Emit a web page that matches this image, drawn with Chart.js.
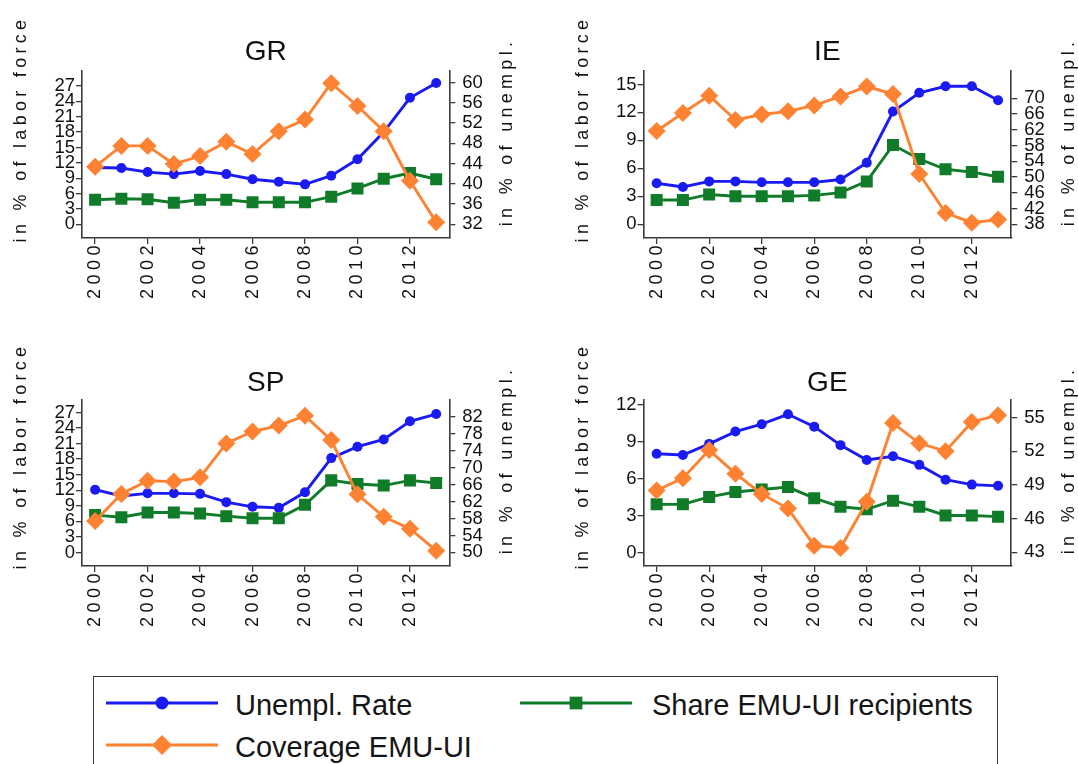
<!DOCTYPE html>
<html>
<head>
<meta charset="utf-8">
<script src="https://cdn.jsdelivr.net/npm/chart.js@4.4.1/dist/chart.umd.min.js"></script>
<style>
  html, body { margin: 0; padding: 0; background: #fff; }
  body { width: 1078px; height: 764px; position: relative; overflow: hidden; font-family: "Liberation Sans", Arial, sans-serif; }
  canvas.panel { position: absolute; }
  #legendBox { position: absolute; left: 93px; top: 676px; width: 905px; height: 110px; border: 1.5px solid #3a3a3a; box-sizing: border-box; }
  .legIcon { position: absolute; }
  .legText { position: absolute; font-size: 29px; line-height: 36px; color: #151515; white-space: nowrap; }
</style>
</head>
<body>
<canvas class="panel" id="cGR"></canvas>
<canvas class="panel" id="cIE"></canvas>
<canvas class="panel" id="cSP"></canvas>
<canvas class="panel" id="cGE"></canvas>
<div id="legendBox"></div>
<div id="legend"></div>

<script>
// années
var years = [2000, 2001, 2002, 2003, 2004, 2005, 2006, 2007, 2008, 2009, 2010, 2011, 2012, 2013];
var xTicks = [2000, 2002, 2004, 2006, 2008, 2010, 2012];

// Grèce
var grUnemp = [11.1, 11.0, 10.2, 9.8, 10.4, 9.8, 8.8, 8.3, 7.8, 9.5, 12.7, 18.0, 24.7, 27.6];
var grShare = [4.8, 5.0, 4.9, 4.2, 4.8, 4.8, 4.3, 4.3, 4.3, 5.4, 7.0, 8.9, 10.0, 8.8];
var grCover = [43.4, 47.5, 47.5, 43.9, 45.5, 48.3, 45.9, 50.4, 52.7, 59.9, 55.4, 50.4, 40.6, 32.4];
var grLeftTicks = [0, 3, 6, 9, 12, 15, 18, 21, 24, 27];
var grRightTicks = [32, 36, 40, 44, 48, 52, 56, 60];

// Irlande
var ieUnemp = [4.4, 4.0, 4.6, 4.6, 4.5, 4.5, 4.5, 4.8, 6.6, 12.1, 14.1, 14.8, 14.8, 13.3];
var ieShare = [2.6, 2.6, 3.2, 3.0, 3.0, 3.0, 3.1, 3.4, 4.6, 8.5, 7.0, 5.9, 5.6, 5.1];
var ieCover = [61.7, 66.3, 70.7, 64.5, 65.9, 66.7, 68.2, 70.5, 73.0, 71.1, 50.8, 40.9, 38.4, 39.2];
var ieLeftTicks = [0, 3, 6, 9, 12, 15];
var ieRightTicks = [38, 42, 46, 50, 54, 58, 62, 66, 70];

// Espagne
var spUnemp = [12.1, 10.9, 11.4, 11.4, 11.3, 9.7, 8.8, 8.6, 11.6, 18.2, 20.4, 21.8, 25.3, 26.7];
var spShare = [7.2, 6.8, 7.7, 7.7, 7.5, 7.0, 6.6, 6.6, 9.2, 13.9, 13.2, 12.9, 13.9, 13.4];
var spCover = [57.4, 63.8, 66.9, 66.7, 67.7, 75.7, 78.5, 79.9, 82.2, 76.5, 63.7, 58.4, 55.6, 50.4];
var spLeftTicks = [0, 3, 6, 9, 12, 15, 18, 21, 24, 27];
var spRightTicks = [50, 54, 58, 62, 66, 70, 74, 78, 82];

// Allemagne
var geUnemp = [8.0, 7.9, 8.8, 9.8, 10.4, 11.2, 10.2, 8.7, 7.5, 7.8, 7.1, 5.9, 5.5, 5.4];
var geShare = [3.9, 3.9, 4.5, 4.9, 5.1, 5.3, 4.4, 3.7, 3.5, 4.2, 3.7, 3.0, 3.0, 2.9];
var geCover = [48.5, 49.6, 52.1, 50.0, 48.2, 46.9, 43.6, 43.4, 47.5, 54.5, 52.7, 52.0, 54.6, 55.2];
var geLeftTicks = [0, 3, 6, 9, 12];
var geRightTicks = [43, 46, 49, 52, 55];

var leftTitle = 'in % of labor force';
var rightTitle = 'in % of unempl.';

// séries (couleurs, marqueurs)
var series = [
    { key: 'unemp', label: 'Unempl. Rate', color: '#1a1af2', style: 'circle', r: 5, axis: 'y', order: 3, legR: 6.5 },
    { key: 'share', label: 'Share EMU-UI recipients', color: '#107c29', style: 'rect', r: 8.5, axis: 'y', order: 2, legR: 9 },
    { key: 'cover', label: 'Coverage EMU-UI', color: '#ff8232', style: 'rectRot', r: 9, axis: 'y1', order: 1, legR: 10 }
];

var panels = [
    { id: 'cGR', title: 'GR', unemp: grUnemp, share: grShare, cover: grCover, left: grLeftTicks, right: grRightTicks, yMin: -2.67, yMax: 29.93, y1Min: 29.29, y1Max: 62.31, col: 0, row: 0 },
    { id: 'cIE', title: 'IE', unemp: ieUnemp, share: ieShare, cover: ieCover, left: ieLeftTicks, right: ieRightTicks, yMin: -1.47, yMax: 16.44, y1Min: 34.52, y1Max: 76.96, col: 1, row: 0 },
    { id: 'cSP', title: 'SP', unemp: spUnemp, share: spShare, cover: spCover, left: spLeftTicks, right: spRightTicks, yMin: -2.62, yMax: 29.41, y1Min: 46.79, y1Max: 85.94, col: 0, row: 1 },
    { id: 'cGE', title: 'GE', unemp: geUnemp, share: geShare, cover: geCover, left: geLeftTicks, right: geRightTicks, yMin: -1.10, yMax: 12.36, y1Min: 41.79, y1Max: 56.55, col: 1, row: 1 }
];

// mise en page des colonnes / lignes
var cols = [
    { x: 0, w: 540, leftW: 82, rightW: 90.7, tLeftX: 21, tRightX: 507 },
    { x: 540, w: 538, leftW: 103.5, rightW: 66.8, tLeftX: 43, tRightX: 529 }
];
var rows = [
    { y: 0, h: 320, titleY: 52, top: 71, bottom: 238, tLeftY: 129, tRightY: 132 },
    { y: 320, h: 340, titleY: 63, top: 80, bottom: 246, tLeftY: 136, tRightY: 140 }
];

var axisColor = '#3a3a3a';
var textColor = '#111';
Chart.defaults.font.family = '"Liberation Sans", Arial, sans-serif';

// axe x avec lettres espacées (comme l'original)
class SpacedLinearScale extends Chart.LinearScale {
    drawLabels(area) {
        this.ctx.save();
        this.ctx.letterSpacing = '4.5px';
        super.drawLabels(area);
        this.ctx.restore();
    }
}
SpacedLinearScale.id = 'spacedLinear';
SpacedLinearScale.defaults = Chart.LinearScale.defaults;
Chart.register(SpacedLinearScale);

// titres des axes verticaux (tous deux lus de bas en haut)
var axisTitles = {
    id: 'axisTitles',
    afterDraw: function(chart, args, opts) {
        var ctx = chart.ctx;
        opts.items.forEach(function(t) {
            ctx.save();
            ctx.font = '18px "Liberation Sans", Arial, sans-serif';
            ctx.fillStyle = textColor;
            ctx.letterSpacing = '4.3px';
            ctx.translate(t.x, t.y);
            ctx.rotate(-Math.PI / 2);
            ctx.textAlign = 'center';
            ctx.textBaseline = 'middle';
            ctx.fillText(t.text, 0, 0);
            ctx.restore();
        });
    }
};

function toXY(values) {
    return values.map(function(v, i) { return { x: years[i], y: v }; });
}

panels.forEach(function(p) {
    var c = cols[p.col], r = rows[p.row];
    var canvas = document.getElementById(p.id);
    canvas.width = c.w;
    canvas.height = r.h;
    canvas.style.left = c.x + 'px';
    canvas.style.top = r.y + 'px';

    var datasets = series.map(function(s) {
        return {
            label: s.label,
            data: toXY(p[s.key]),
            yAxisID: s.axis,
            borderColor: s.color,
            backgroundColor: s.color,
            borderWidth: 2.9,
            pointStyle: s.style,
            pointRadius: s.r,
            pointBorderWidth: 0,
            tension: 0,
            order: s.order
        };
    });

    new Chart(canvas, {
        type: 'line',
        data: { datasets: datasets },
        options: {
            responsive: false,
            animation: false,
            devicePixelRatio: 1,
            layout: { padding: 0, autoPadding: false },
            scales: {
                x: {
                    type: 'spacedLinear',
                    min: 1999.5,
                    max: 2013.5,
                    afterBuildTicks: function(s) { s.ticks = xTicks.map(function(v) { return { value: v }; }); },
                    afterFit: function(s) { s.height = r.h - r.bottom; },
                    grid: { drawOnChartArea: false, tickLength: 6, color: axisColor, lineWidth: 1.3 },
                    border: { color: axisColor, width: 1.6 },
                    ticks: { autoSkip: false, minRotation: 90, maxRotation: 90, padding: -3, color: textColor, font: { size: 18 },
                             callback: function(v) { return String(v); } }
                },
                y: {
                    position: 'left',
                    min: p.yMin,
                    max: p.yMax,
                    afterBuildTicks: function(s) { s.ticks = p.left.map(function(v) { return { value: v }; }); },
                    afterFit: function(s) { s.width = c.leftW; },
                    grid: { drawOnChartArea: false, tickLength: 6, color: axisColor, lineWidth: 1.3 },
                    border: { color: axisColor, width: 1.6 },
                    ticks: { autoSkip: false, padding: 1, color: textColor, font: { size: 18.5 },
                             callback: function(v) { return String(v); } }
                },
                y1: {
                    position: 'right',
                    min: p.y1Min,
                    max: p.y1Max,
                    afterBuildTicks: function(s) { s.ticks = p.right.map(function(v) { return { value: v }; }); },
                    afterFit: function(s) { s.width = c.rightW; },
                    grid: { drawOnChartArea: false, tickLength: 6, color: axisColor, lineWidth: 1.3 },
                    border: { color: axisColor, width: 1.6 },
                    ticks: { autoSkip: false, padding: 7, color: textColor, font: { size: 18.5 },
                             callback: function(v) { return String(v); } }
                }
            },
            plugins: {
                legend: { display: false },
                tooltip: { enabled: false },
                title: {
                    display: true,
                    text: p.title,
                    fullSize: false,
                    color: '#111',
                    font: { size: 28, weight: 'normal', lineHeight: 1.2 },
                    padding: { top: r.titleY - 16.8, bottom: r.top - r.titleY - 16.8 }
                },
                axisTitles: {
                    items: [
                        { text: leftTitle, x: c.tLeftX, y: r.tLeftY },
                        { text: rightTitle, x: c.tRightX, y: r.tRightY }
                    ]
                }
            }
        },
        plugins: [axisTitles]
    });
});

// légende commune
var legendPos = [
    { iconX: 102, textX: 235, y: 703 },
    { iconX: 516, textX: 652, y: 703 },
    { iconX: 102, textX: 235, y: 745 }
];
var legend = document.getElementById('legend');
series.forEach(function(s, i) {
    var pos = legendPos[i];
    var icon = document.createElement('canvas');
    icon.className = 'legIcon';
    icon.width = 120;
    icon.height = 30;
    icon.style.left = pos.iconX + 'px';
    icon.style.top = (pos.y - 15) + 'px';
    var ictx = icon.getContext('2d');
    ictx.strokeStyle = s.color;
    ictx.fillStyle = s.color;
    ictx.lineWidth = 2.9;
    ictx.beginPath();
    ictx.moveTo(4, 15);
    ictx.lineTo(116, 15);
    ictx.stroke();
    Chart.helpers.drawPoint(ictx, { pointStyle: s.style, rotation: 0, radius: s.legR, borderWidth: 0 }, 60, 15);
    legend.appendChild(icon);

    var txt = document.createElement('div');
    txt.className = 'legText';
    txt.textContent = s.label;
    txt.style.left = pos.textX + 'px';
    txt.style.top = (pos.y + 1.5 - 18) + 'px';
    legend.appendChild(txt);
});
</script>
</body>
</html>
